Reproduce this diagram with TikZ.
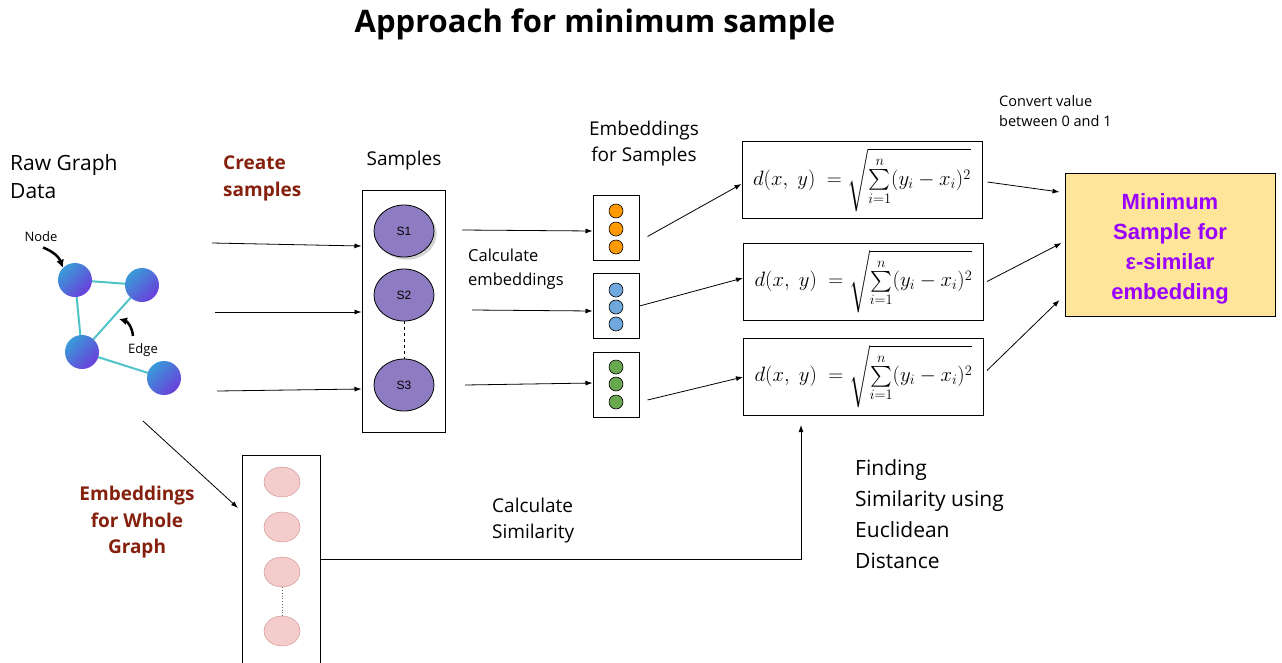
\documentclass[tikz,border=0pt]{standalone}
\usepackage{fontspec}
\setmainfont{Open Sans}
\newfontfamily\arialfont{Liberation Sans}
\usepackage{amsmath}
\usetikzlibrary{positioning,arrows.meta,shapes.geometric,shadows}
\definecolor{darkred}{HTML}{85200C}
\definecolor{samplefill}{HTML}{8E7CC3}
\definecolor{edgeteal}{HTML}{4FC3C8}
\definecolor{gnodeA}{HTML}{3A9AD9}
\definecolor{gnodeB}{HTML}{6A3FD9}
\definecolor{minfill}{HTML}{FFE599}
\definecolor{mintext}{HTML}{9900FF}
\definecolor{pinkfill}{HTML}{F4CCCC}
\definecolor{pinkdraw}{HTML}{C98A8A}
\definecolor{dotorange}{HTML}{FF9900}
\definecolor{dotblue}{HTML}{6FA8DC}
\definecolor{dotgreen}{HTML}{6AA84F}
\newcommand{\fs}[2]{\fontsize{#1}{#2}\selectfont}
\newcommand{\dist}{$d(x,\;y)\;=\sqrt{\sum\limits_{i=1}^{n}(y_i-x_i)^2}$}
\tikzset{
  arr/.style = {-{Latex[length=7pt,width=5pt]}, line width=0.8pt},
  txt/.style = {anchor=north west, inner sep=0pt, align=left},
  gnode/.style = {circle, minimum size=34pt, inner sep=0pt, top color=gnodeA, bottom color=gnodeB, shading angle=45},
  gedge/.style = {edgeteal, line width=2pt},
  pointer/.style = {-{Latex[length=8pt,width=8pt]}, line width=2.5pt},
  sample/.style = {ellipse, draw, line width=0.8pt, fill=samplefill, minimum width=60pt, minimum height=52pt, font=\arialfont\fs{12}{14}},
  embox/.style = {draw, line width=1pt, minimum width=46pt, minimum height=65pt},
  dot/.style = {circle, draw, line width=0.6pt, minimum size=14pt, inner sep=0pt},
  formula/.style = {draw, line width=1pt, minimum width=240pt, minimum height=77pt, font=\fs{22}{26}},
  wdot/.style = {ellipse, draw=pinkdraw, fill=pinkfill, minimum width=36pt, minimum height=30pt}
}
\begin{document}
\begin{tikzpicture}[x=1pt, y=-1pt]
  \useasboundingbox (0,0) rectangle (1282,662);

  \node (title) at (595,24) {\fs{31}{36}\bfseries Approach for minimum sample};

  % raw graph
  \node[txt, font=\fs{21}{28}] (raw) at (10,154) {Raw Graph\\Data};
  \draw[gedge] (75,280) -- (142,285) -- (82,352) -- cycle (82,352) -- (164,378);
  \node (g1) [gnode] at (75,280) {};
  \node (g2) [gnode] at (142,285) {};
  \node (g3) [gnode] at (82,352) {};
  \node (g4) [gnode] at (164,378) {};
  \node[font=\fs{13}{15}] (nodelbl) at (41,237) {Node};
  \node[font=\fs{13}{15}] (edgelbl) at (143,350) {Edge};
  \coordinate (edgept) at (119,319);
  \draw[pointer] (nodelbl.south) ++(2,2) to[bend left=25] (g1.north west);
  \draw[pointer] (edgelbl.north) ++(-10,-4) to[bend right=35] (edgept);

  % samples
  \node[txt, font=\fs{19}{27}\bfseries, text=darkred] (create) at (223,156) {Create\\samples};
  \node[font=\fs{19}{24}] (samplbl) at (404,161) {Samples};
  \node[draw, line width=1pt, minimum width=83pt, minimum height=242pt] (sbox) at (403.5,311) {};
  \node[sample, drop shadow={opacity=0.35}] (s1) at (404,231) {S1};
  \node[sample] (s2) at (404,295) {S2};
  \node[sample] (s3) at (404,385) {S3};
  \draw[dashed, line width=1pt] (s2) -- (s3);
  \coordinate (in1) at (212,243);
  \coordinate (in2) at (215,312);
  \coordinate (in3) at (217,391);
  \draw[arr] (in1) -- (sbox.west |- 0,246);
  \draw[arr] (in2) -- (sbox.west |- 0,312);
  \draw[arr] (in3) -- (sbox.west |- 0,389);

  % embeddings for samples
  \node[font=\fs{19}{26}, align=center] (emblbl) at (644,144) {Embeddings\\for Samples};
  \node[txt, font=\fs{16.5}{24}] (calcemb) at (468,249) {Calculate\\embeddings};
  \node[embox] (e1) at (616,227.5) {};
  \node[embox] (e2) at (616,306) {};
  \node[embox] (e3) at (616,385) {};
  \foreach \y in {211,229,247} \node[dot, fill=dotorange] at (616,\y) {};
  \foreach \y in {290,307,324} \node[dot, fill=dotblue] at (616,\y) {};
  \foreach \y in {367,384,402} \node[dot, fill=dotgreen] at (616,\y) {};
  \coordinate (o1) at (462,230);
  \coordinate (o2) at (472,310);
  \coordinate (o3) at (465,385);
  \draw[arr] (o1) -- (e1.west |- 0,231);
  \draw[arr] (o2) -- (e2.west |- 0,311);
  \draw[arr] (o3) -- (e3.west |- 0,383);

  % distance
  \node[formula] (f1) at (862,180) {\dist};
  \node[formula] (f2) at (863.5,281.5) {\dist};
  \node[formula] (f3) at (863.5,376.5) {\dist};
  \draw[arr] ([xshift=8pt,yshift=-9pt]e1.east) -- (f1.west |- 0,184);
  \draw[arr] (e2.east) -- (f2.west |- 0,278);
  \draw[arr] ([xshift=8pt,yshift=-15pt]e3.east) -- (f3.west |- 0,377);

  % result
  \node[draw, line width=1pt, fill=minfill, minimum width=210pt, minimum height=143pt,
        align=center, text=mintext, font=\arialfont\bfseries\fs{22}{30}] (minbox) at (1170,244.5)
        {\rule{0pt}{24pt}Minimum\\Sample for\\ε-similar\\embedding};
  \node[txt, font=\fs{14.5}{20}] (convert) at (999,95) {Convert value\\between 0 and 1};
  \draw[arr] ([xshift=5pt,yshift=-2pt]f1.east) -- ([xshift=-5pt]minbox.west |- 0,192);
  \draw[arr] ([xshift=3pt]f2.east) -- ([xshift=-3pt]minbox.west |- 0,243);
  \draw[arr] ([xshift=3pt,yshift=6pt]f3.east) -- ([xshift=-5pt]minbox.west |- 0,300);

  % whole graph
  \node[txt, font=\fs{19}{26.5}\bfseries, text=darkred, anchor=north, align=center] (wglbl) at (137,486) {Embeddings\\for Whole\\Graph};
  \node[draw, line width=1pt, minimum width=78pt, minimum height=208pt] (wg) at (281,559) {};
  \node[wdot] (w1) at (282,482) {};
  \node[wdot] (w2) at (282,527) {};
  \node[wdot] (w3) at (282,572) {};
  \node[wdot] (w4) at (282,631) {};
  \draw[dotted, line width=0.8pt, gray!80!black] (w3) -- (w4);
  \coordinate (gout) at (143,421);
  \draw[arr] (gout) -- (238,508);
  \coordinate (simto) at (801,425);
  \draw[arr] (wg.east) -| (simto);
  \node[txt, font=\fs{19}{26}] (calcsim) at (492,498) {Calculate\\Similarity};
  \node[txt, font=\fs{21}{31}] (finding) at (855,459) {Finding\\Similarity using\\Euclidean\\Distance};
\end{tikzpicture}
\end{document}
